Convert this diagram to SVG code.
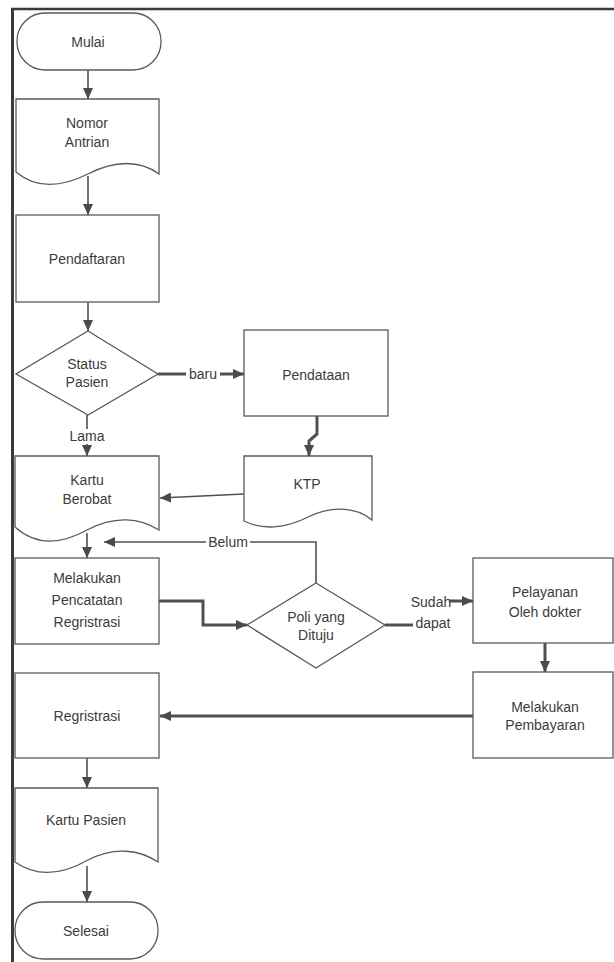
<svg xmlns="http://www.w3.org/2000/svg" width="614" height="962" viewBox="0 0 614 962">
  <style>
    .shape { fill: #ffffff; stroke: #5a5a5a; stroke-width: 1.3; }
    .lbl { font-family: "Liberation Sans", Arial, sans-serif; font-size: 14px; fill: #3c3c3c; text-anchor: middle; }
    .con { fill: none; stroke: #505050; stroke-width: 1.6; }
    .thick { stroke-width: 3; }
    .bg { fill: #ffffff; }
  </style>
  <defs>
    <marker id="arrow" markerUnits="userSpaceOnUse" markerWidth="12" markerHeight="12" viewBox="0 0 12 12" refX="11" refY="6" orient="auto">
      <path d="M0,1 L11,6 L0,11 Z" fill="#4a4a4a"/>
    </marker>
  </defs>

  <rect x="0" y="0" width="614" height="962" fill="#ffffff"/>

  <!-- page frame -->
  <g id="frame" stroke="#3a3a3a" fill="none">
    <line x1="12.5" y1="8" x2="12.5" y2="962" stroke-width="3"/>
    <line x1="11" y1="9" x2="614" y2="9" stroke-width="2.5"/>
  </g>

  <!-- connectors -->
  <g id="connectors">
    <path class="con" d="M88,70 V99" marker-end="url(#arrow)"/>
    <path class="con" d="M88,176 V215" marker-end="url(#arrow)"/>
    <path class="con" d="M88,302 V331" marker-end="url(#arrow)"/>
    <path class="con thick" d="M158,374 H244" marker-end="url(#arrow)"/>
    <path class="con thick" d="M317,416 V434 L309,441 V456" marker-end="url(#arrow)"/>
    <path class="con" d="M87,415 V456" marker-end="url(#arrow)"/>
    <path class="con" d="M244,494 L160,498" marker-end="url(#arrow)"/>
    <path class="con" d="M316,583 V542 H104" marker-end="url(#arrow)"/>
    <path class="con" d="M87,533 V558" marker-end="url(#arrow)"/>
    <path class="con thick" d="M159,601 H203 V625 H247" marker-end="url(#arrow)"/>
    <path class="con thick" d="M385,625 H432 V601 H473" marker-end="url(#arrow)"/>
    <path class="con thick" d="M545,643 V672" marker-end="url(#arrow)"/>
    <path class="con thick" d="M473,716 H160" marker-end="url(#arrow)"/>
    <path class="con" d="M87,758 V788" marker-end="url(#arrow)"/>
    <path class="con" d="M87,866 V902" marker-end="url(#arrow)"/>

    <!-- connector labels -->
    <rect class="bg" x="186" y="366" width="34" height="15"/>
    <text class="lbl" x="203" y="379">baru</text>
    <rect class="bg" x="69" y="429" width="36" height="15"/>
    <text class="lbl" x="87" y="441">Lama</text>
    <rect class="bg" x="206" y="535" width="44" height="15"/>
    <text class="lbl" x="228" y="547">Belum</text>
    <rect class="bg" x="413" y="592" width="36" height="38"/>
    <text class="lbl" x="431" y="607">Sudah</text>
    <text class="lbl" x="433" y="628">dapat</text>
  </g>

  <g id="mulai">
    <rect class="shape" x="17" y="13" width="144" height="57" rx="28" ry="28"/>
    <text class="lbl" x="88" y="47">Mulai</text>
  </g>

  <g id="nomor-antrian">
    <path class="shape" d="M16,99 H159 V174 C140,160 115,160 88,174 C60,188 35,188 16,172 Z"/>
    <text class="lbl" x="87" y="128">Nomor</text>
    <text class="lbl" x="87" y="147">Antrian</text>
  </g>

  <g id="pendaftaran">
    <rect class="shape" x="16" y="215" width="143" height="87"/>
    <text class="lbl" x="87" y="264">Pendaftaran</text>
  </g>

  <g id="status-pasien">
    <path class="shape" d="M88,331 L158,374 L88,415 L16,374 Z"/>
    <text class="lbl" x="87" y="369">Status</text>
    <text class="lbl" x="87" y="387">Pasien</text>
  </g>

  <g id="pendataan">
    <rect class="shape" x="244" y="330" width="144" height="86"/>
    <text class="lbl" x="316" y="380">Pendataan</text>
  </g>

  <g id="kartu-berobat">
    <path class="shape" d="M15,456 H159 V530 C140,518 115,515 87,530 C60,545 35,545 15,527 Z"/>
    <text class="lbl" x="87" y="485">Kartu</text>
    <text class="lbl" x="87" y="504">Berobat</text>
  </g>

  <g id="ktp">
    <path class="shape" d="M244,456 H372 V520 C355,506 330,506 308,517 C285,529 262,530 244,521 Z"/>
    <text class="lbl" x="307" y="489">KTP</text>
  </g>

  <g id="pencatatan">
    <rect class="shape" x="15" y="558" width="144" height="86"/>
    <text class="lbl" x="87" y="583">Melakukan</text>
    <text class="lbl" x="87" y="605">Pencatatan</text>
    <text class="lbl" x="87" y="627">Regristrasi</text>
  </g>

  <g id="poli">
    <path class="shape" d="M316,583 L385,625 L316,668 L247,625 Z"/>
    <text class="lbl" x="316" y="622">Poli yang</text>
    <text class="lbl" x="316" y="640">Dituju</text>
  </g>

  <g id="pelayanan">
    <rect class="shape" x="473" y="558" width="140" height="85"/>
    <text class="lbl" x="545" y="597">Pelayanan</text>
    <text class="lbl" x="545" y="617">Oleh dokter</text>
  </g>

  <g id="pembayaran">
    <rect class="shape" x="473" y="672" width="140" height="86"/>
    <text class="lbl" x="545" y="712">Melakukan</text>
    <text class="lbl" x="545" y="730">Pembayaran</text>
  </g>

  <g id="regristrasi">
    <rect class="shape" x="15" y="673" width="144" height="85"/>
    <text class="lbl" x="87" y="721">Regristrasi</text>
  </g>

  <g id="kartu-pasien">
    <path class="shape" d="M15,788 H158 V862 C140,850 115,846 88,860 C60,876 35,876 15,862 Z"/>
    <text class="lbl" x="86" y="825">Kartu Pasien</text>
  </g>

  <g id="selesai">
    <rect class="shape" x="15" y="902" width="143" height="57" rx="28" ry="28"/>
    <text class="lbl" x="86" y="936">Selesai</text>
  </g>
</svg>
